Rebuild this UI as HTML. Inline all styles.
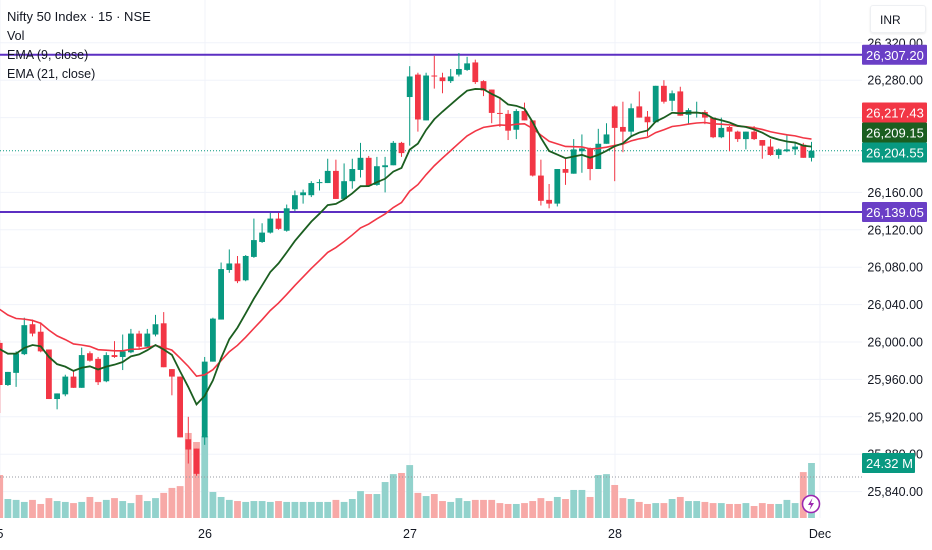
<!DOCTYPE html>
<html><head><meta charset="utf-8">
<style>
html,body{margin:0;padding:0;background:#fff;}
body{width:932px;height:550px;overflow:hidden;position:relative;font-family:"Liberation Sans",sans-serif;}
svg{position:absolute;left:0;top:0;}
.legend{position:absolute;left:7px;font-size:12.5px;color:#131722;white-space:nowrap;}
</style></head>
<body>
<svg id="chart" width="932" height="550"></svg>
<div class="legend" style="top:9px;font-size:13px;">Nifty 50 Index · 15 · NSE</div>
<div class="legend" style="top:29px;">Vol</div>
<div class="legend" style="top:48px;">EMA (9, close)</div>
<div class="legend" style="top:67px;">EMA (21, close)</div>
<div style="position:absolute;left:870px;top:5px;width:56px;height:28px;border:1px solid #eef0f3;border-radius:3px;box-shadow:0 1px 2px rgba(0,0,0,0.08);font-size:12px;line-height:28px;padding-left:9px;box-sizing:border-box;color:#131722;">INR</div>
<script>
const opens=[25999,25954,25967,25987,26019,26011,25992,25939,25944,25963,25951,25988,25982,25958,25986,25984,25989,26009,25995,26008,26020,25971,25963,25896,25886,
25898,25979,26024,26077,26084,26066,26091,26107,26117,26132,26119,26142,26157,26157,26170,26170,26183,26153,26172,26184,26197,26168,26187,26189,26213,
26262,26286,26237,26285,26283,26279,26286,26291,26299,26279,26270,26245,26244,26227,26247,26237,26178,26152,26148,26185,26180,26204,26207,26185,26212,
26252,26230,26225,26252,26241,26235,26274,26258,26268,26243,26245,26246,26240,26219,26230,26225,26217,26225,26216,26209,26200,26204,26206,26211,26197];
const highs=[26002,25968,25990,26026,26024,26021,25992,25945,25965,25969,25994,25990,25984,25989,26001,26008,26014,26012,26014,26029,26032,25971,25963,25920,25886,
25984,26026,26085,26099,26092,26093,26132,26127,26138,26138,26147,26162,26163,26172,26174,26196,26195,26191,26196,26213,26199,26198,26198,26215,26214,
26295,26288,26288,26306,26288,26292,26309,26305,26302,26280,26270,26262,26248,26249,26256,26237,26195,26169,26185,26196,26217,26222,26208,26228,26234,
26253,26257,26255,26268,26247,26274,26280,26269,26273,26250,26257,26248,26240,26240,26231,26226,26225,26231,26216,26217,26207,26222,26213,26213,26214];
const lows=[25924,25953,25952,25986,26006,25989,25939,25928,25942,25951,25951,25979,25954,25957,25983,25970,25988,25992,25994,26006,25973,25943,25898,25870,25857,
25890,25979,26024,26074,26063,26065,26090,26106,26116,26120,26118,26140,26148,26155,26162,26170,26153,26153,26164,26176,26166,26167,26160,26189,26198,
26210,26225,26237,26271,26266,26277,26284,26290,26276,26263,26234,26230,26216,26217,26237,26177,26146,26143,26145,26168,26180,26181,26173,26185,26212,
26172,26203,26219,26240,26220,26235,26255,26247,26242,26233,26240,26233,26218,26218,26204,26214,26206,26216,26196,26199,26196,26203,26200,26197,26193];
const closes=[25954,25968,25988,26018,26009,25990,25939,25945,25963,25951,25986,25980,25957,25986,25984,25990,26009,25995,26009,26019,25973,25963,25898,25885,25859,
25979,26025,26078,26084,26065,26092,26109,26117,26132,26121,26143,26157,26160,26170,26171,26183,26153,26172,26185,26197,26167,26188,26189,26213,26202,
26284,26238,26285,26284,26279,26284,26292,26298,26278,26269,26245,26244,26226,26247,26237,26178,26151,26148,26185,26181,26206,26207,26185,26212,26222,
26229,26225,26250,26240,26235,26274,26257,26266,26242,26248,26246,26240,26219,26229,26225,26217,26225,26217,26210,26200,26206,26206,26209,26197,26204.55];
const volumes=[19.0,8.4,8.0,7.1,8.0,6.2,8.8,7.5,7.1,6.6,7.1,9.3,7.1,8.0,8.8,7.5,6.6,10.2,7.5,8.8,11.1,13.3,14.1,37.6,33.6,
36.2,11.5,9.3,8.0,7.5,7.1,7.5,7.5,7.1,7.5,7.1,7.1,7.1,7.1,7.1,7.1,8.0,7.1,8.4,11.9,10.6,10.6,15.9,19.4,19.9,
23.4,11.1,9.7,10.6,7.5,7.1,8.8,7.5,8.0,8.0,8.0,6.6,6.2,6.2,6.6,7.5,8.8,7.5,9.3,8.4,12.4,12.4,9.3,19.0,19.4,
14.6,8.8,8.4,7.1,6.2,6.6,6.6,8.4,9.3,7.5,7.5,7.1,6.6,6.6,6.2,6.2,6.6,5.3,6.6,6.2,6.2,8.0,6.6,20.3,24.32];
const ema9Seed=[26002];
const ema21Seed=[26043];
const priceTicks=[26320,26280,26240,26200,26160,26120,26080,26040,26000,25960,25920,25880,25840];
const dayLabels=["5","26","27","28","Dec"];
const dayStartIndex=[0,25,50,75,100];
const levelLines=[26307.20,26139.05];
const emaLast=[26217.43,26209.15];

const NS="http://www.w3.org/2000/svg";
const svg=document.getElementById('chart');
const plotRight=862, volBase=518;
const yP=p=>342-(p-26000)*0.935;
const xI=i=>-0.3+i*8.2;
const yV=v=>volBase-v*(55/24.32);
function mk(tag,attrs,parent){const e=document.createElementNS(NS,tag);for(const k in attrs)e.setAttribute(k,attrs[k]);(parent||svg).appendChild(e);return e;}
const fmt=v=>v.toLocaleString('en-US',{minimumFractionDigits:2,maximumFractionDigits:2});

// grid
const grid=mk('g',{});


priceTicks.forEach(p=>{mk('line',{x1:0,x2:plotRight,y1:yP(p),y2:yP(p),stroke:'#f0f3fa','stroke-width':1},grid);});
dayStartIndex.forEach(i=>{const x=xI(i)+0.3;mk('line',{x1:x,x2:x,y1:0,y2:volBase,stroke:'#f0f3fa','stroke-width':1},grid);});

// volume
const vg=mk('g',{});


volumes.forEach((v,i)=>{
  const up=closes[i]>=opens[i];
  const r=mk('rect',{x:xI(i)-3.4,y:yV(v),width:6.8,height:volBase-yV(v),fill:up?'#92d2cc':'#f7a9a7'},vg);
  
  
});
mk('line',{x1:0,x2:plotRight,y1:477,y2:477,stroke:'#9598a1','stroke-width':1,'stroke-dasharray':'1,2'});

// levels
levelLines.forEach(p=>{
  const l=mk('line',{x1:0,x2:plotRight,y1:yP(p),y2:yP(p),stroke:'#5c2fc2','stroke-width':2});
  
  
});
// current price dotted
const lastC=closes[closes.length-1];
mk('line',{x1:0,x2:plotRight,y1:yP(lastC),y2:yP(lastC),stroke:'#089981','stroke-width':1,'stroke-dasharray':'1,2'});

// candles
const cg=mk('g',{});


opens.forEach((o,i)=>{
  const c=closes[i],up=c>=o,col=up?'#089981':'#f23645',x=xI(i);
  const g=mk('g',{},cg);
  
  
  mk('line',{x1:x,x2:x,y1:yP(highs[i]),y2:yP(lows[i]),stroke:col,'stroke-width':1},g);
  const t=Math.min(yP(o),yP(c)),h=Math.max(1,Math.abs(yP(o)-yP(c)));
  mk('rect',{x:x-2.9,y:t,width:5.8,height:h,fill:col},g);
});

// EMAs
function ema(seed,n){const k=2/(n+1);let e=seed;return closes.map(c=>(e=e+k*(c-e)));}
const e9=ema(ema9Seed[0],9),e21=ema(ema21Seed[0],21);
const p21=mk('polyline',{points:e21.map((v,i)=>xI(i)+','+yP(v)).join(' '),fill:'none',stroke:'#f23645','stroke-width':1.6});


const p9=mk('polyline',{points:e9.map((v,i)=>xI(i)+','+yP(v)).join(' '),fill:'none',stroke:'#1b5e20','stroke-width':1.8});



// price axis labels
const ax=mk('g',{});


priceTicks.forEach(p=>{
  const t=mk('text',{x:923,y:yP(p)+4.5,'text-anchor':'end','font-size':'12.5','font-family':'Liberation Sans, sans-serif',fill:'#131722'},ax);
  t.textContent=fmt(p);
  
  
});
// time axis
dayLabels.forEach((d,j)=>{
  const t=mk('text',{x:xI(dayStartIndex[j])+0.3,y:538,'text-anchor':'middle','font-size':'12.5','font-family':'Liberation Sans, sans-serif',fill:'#131722'});
  t.textContent=d;
  
  
});

// tags
function tag(y,txt,bg,w,name){
  const g=mk('g',{});
  
  
  mk('rect',{x:862,y:y-10,width:w,height:20,fill:bg,rx:1},g);
  const t=mk('text',{x:866,y:y+5,'font-size':'13','font-family':'Liberation Sans, sans-serif',fill:'#fff'},g);
  t.textContent=txt;
}
tag(yP(levelLines[0]),fmt(levelLines[0]),'#6a3fc6',65,'resistance-price-tag');
tag(112.5,fmt(emaLast[0]),'#f23645',65,'ema21-price-tag');
tag(132.5,fmt(emaLast[1]),'#1b5e20',65,'ema9-price-tag');
tag(152.5,fmt(lastC),'#089981',65,'last-price-tag');
tag(yP(levelLines[1]),fmt(levelLines[1]),'#6a3fc6',65,'support-price-tag');
tag(463,volumes[volumes.length-1].toFixed(2)+' M','#089981',53,'volume-tag');

// lightning icon
const ic=mk('g',{});


mk('circle',{cx:811,cy:504,r:8.5,fill:'#fff',stroke:'#9c27b0','stroke-width':1.6},ic);
mk('path',{d:'M812.5 498 L808 505 L811 505 L809.5 510 L814 503 L811 503 Z',fill:'#9c27b0'},ic);
</script>
</body></html>
